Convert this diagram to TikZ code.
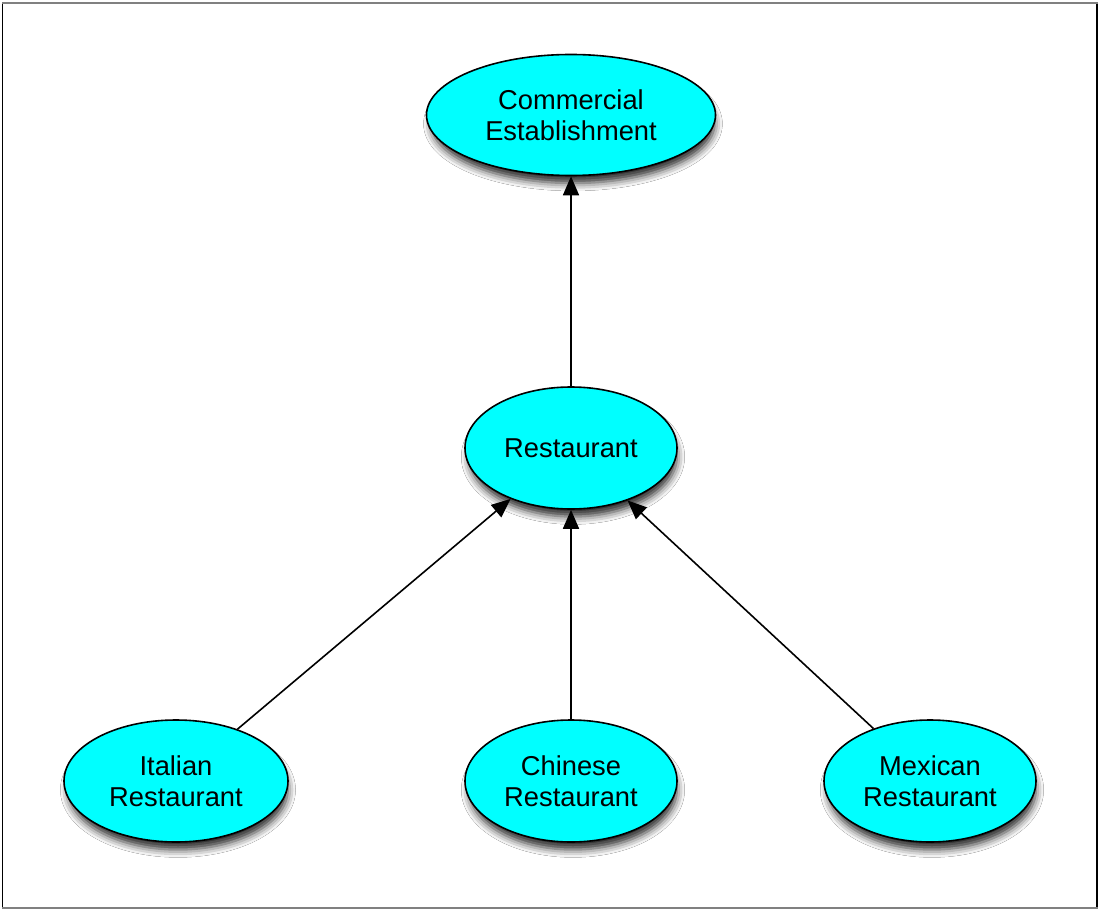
\documentclass[tikz,border=0pt]{standalone}
\usepackage{fontspec}
\setmainfont{Liberation Sans}
\usetikzlibrary{shapes.geometric,shadows.blur,arrows.meta}
\definecolor{aqua}{RGB}{0,255,255}
\tikzset{
  cls/.style={ellipse, draw=black, line width=1.6pt, fill=aqua, inner sep=0pt,
    align=center, font=\fontsize{27.3}{31.5}\selectfont,
    blur shadow={shadow xshift=2pt, shadow yshift=-9pt, shadow scale=0.98, shadow blur radius=8pt, shadow opacity=85}},
  isa/.style={line width=1.6pt, -{Triangle[length=19pt,width=16pt]}}
}
\begin{document}
\begin{tikzpicture}[x=1pt,y=-1pt]
\useasboundingbox (0,0) rectangle (1100,912);
\fill[white] (0,0) rectangle (1100,912);
\draw[line width=1.5pt, black] (2.5,3) -- (2.5,908);
\draw[line width=1.5pt, black] (1097,3) -- (1097,908);
\draw[line width=2pt, gray] (2,3) -- (1098,3);
\draw[line width=2pt, gray] (2,908) -- (1098,908);
\node[cls, minimum width=289pt, minimum height=121pt] (ce) at (571,115) {Commercial\\Establishment};
\node[cls, minimum width=212pt, minimum height=122pt] (r) at (571,448) {Restaurant};
\node[cls, minimum width=224pt, minimum height=122pt] (it) at (176,781) {Italian\\Restaurant};
\node[cls, minimum width=212pt, minimum height=122pt] (ch) at (571,781) {Chinese\\Restaurant};
\node[cls, minimum width=212pt, minimum height=122pt] (mx) at (930,781) {Mexican\\Restaurant};
\draw[isa] (r) -- (ce);
\draw[isa] (it) -- (r);
\draw[isa] (ch) -- (r);
\draw[isa] (mx) -- (r);
\end{tikzpicture}
\end{document}
